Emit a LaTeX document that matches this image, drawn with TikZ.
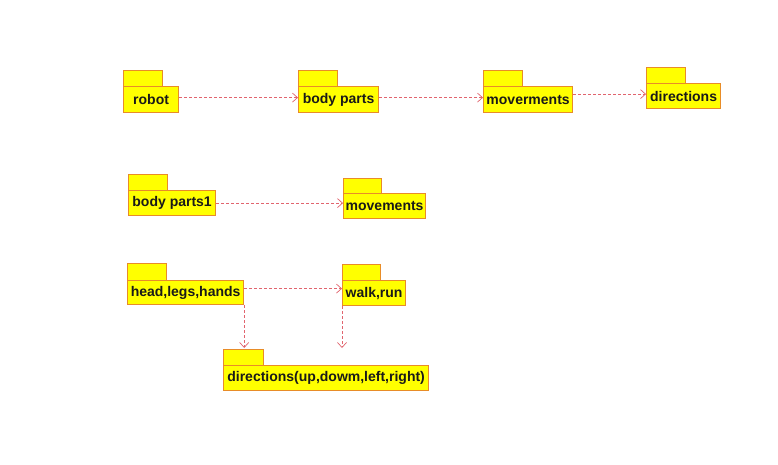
\documentclass[tikz,border=0pt]{standalone}
\usepackage{fontspec}
\setmainfont{Liberation Sans}
\usetikzlibrary{arrows.meta}
\definecolor{pkgfill}{RGB}{255,255,0}
\definecolor{pkgborder}{RGB}{232,140,40}
\definecolor{deparrow}{RGB}{225,100,110}
\begin{document}
\begin{tikzpicture}[x=1pt,y=-1pt,
  tabbox/.style={draw=pkgborder,fill=pkgfill,line width=1.2pt,inner sep=0pt,anchor=north west,minimum width=39pt},
  pkgbody/.style={draw=pkgborder,fill=pkgfill,line width=1.2pt,inner sep=0pt,anchor=north west,font=\bfseries\fontsize{14}{16}\selectfont,text=black!90},
  dep/.style={draw=deparrow,line width=0.7pt,dash pattern=on 3pt off 2pt,-{Straight Barb[length=5pt,width=9pt]}}]
\useasboundingbox (0,0) rectangle (778,465);
\fill[white] (0,0) rectangle (778,465);
% row 1
\node[tabbox,minimum height=16pt] (robotT) at (123,70) {};
\node[pkgbody,minimum width=55pt,minimum height=26pt] (robot) at (123,86) {robot};
\node[tabbox,minimum height=16pt] (bodypartsT) at (298,70) {};
\node[pkgbody,minimum width=80pt,minimum height=26pt] (bodyparts) at (298,86) {body parts};
\node[tabbox,minimum height=16pt] (movermentsT) at (483,70) {};
\node[pkgbody,minimum width=89pt,minimum height=26pt] (moverments) at (483,86) {moverments};
\node[tabbox,minimum height=16pt] (directionsT) at (646,67) {};
\node[pkgbody,minimum width=74pt,minimum height=25pt] (directions) at (646,83) {directions};
% row 2
\node[tabbox,minimum height=16pt] (bodyparts1T) at (128,174) {};
\node[pkgbody,minimum width=87pt,minimum height=25pt] (bodyparts1) at (128,190) {body parts1};
\node[tabbox,minimum width=38pt,minimum height=15pt] (movementsT) at (343,178) {};
\node[pkgbody,minimum width=82pt,minimum height=25pt] (movements) at (343,193) {movements};
% row 3
\node[tabbox,minimum height=17pt] (headT) at (127,263) {};
\node[pkgbody,minimum width=116pt,minimum height=24pt] (head) at (127,280) {head,legs,hands};
\node[tabbox,minimum width=38pt,minimum height=16pt] (walkT) at (342,264) {};
\node[pkgbody,minimum width=63pt,minimum height=25pt] (walk) at (342,280) {walk,run};
\node[tabbox,minimum width=40pt,minimum height=16pt] (dirsT) at (223,349) {};
\node[pkgbody,minimum width=205pt,minimum height=25pt] (dirs) at (223,365) {directions(up,dowm,left,right)};
% dependencies
\draw[dep] ([yshift=2pt]robot.east) -- ([yshift=2pt]bodyparts.west);
\draw[dep] ([yshift=2pt]bodyparts.east) -- ([yshift=2pt]moverments.west);
\draw[dep] ([yshift=2pt]directions.west -| moverments.east) -- ([yshift=2pt]directions.west);
\draw[dep] (bodyparts1.east) -- (bodyparts1.east -| movements.west);
\draw[dep] ([yshift=4pt]head.east) -- ([yshift=4pt]head.east -| walk.west);
\coordinate (walkend) at ([yshift=1pt]walk.south west |- dirsT.north);
\draw[dep] (head.south east) -- ([yshift=1pt]head.south east |- dirsT.north);
\draw[dep] (walk.south west) -- (walkend);
\end{tikzpicture}
\end{document}
